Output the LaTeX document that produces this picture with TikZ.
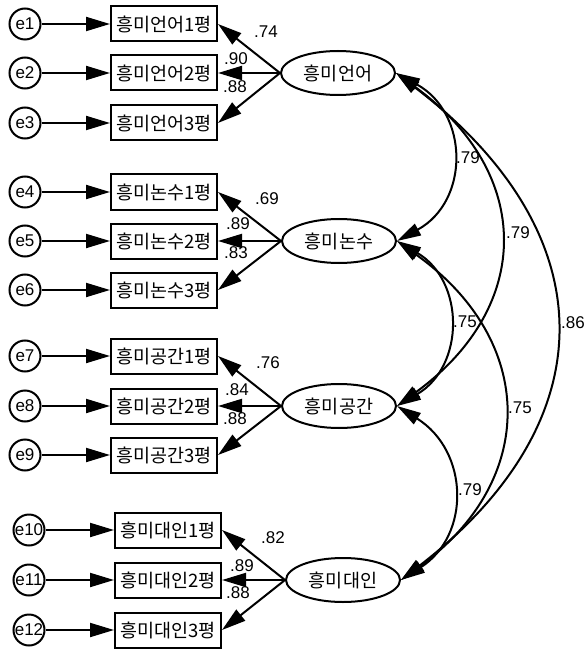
\documentclass[tikz,border=0pt]{standalone}
\usepackage{fontspec}
\setmainfont{Liberation Sans}
\newfontfamily\kr{Noto Sans CJK KR}
\usetikzlibrary{arrows.meta,shapes.geometric}
\begin{document}
\begin{tikzpicture}[x=1pt,y=-1pt,
  every node/.style={inner sep=0pt},
  obs/.style={draw, line width=2pt, minimum width=106pt, minimum height=35pt, font=\kr\fontsize{18.5}{18.5}\selectfont},
  err/.style={draw, circle, line width=2pt, minimum size=31pt, font=\fontsize{17}{17}\selectfont},
  lat/.style={draw, ellipse, line width=2pt, minimum width=114pt, minimum height=44pt, font=\kr\fontsize{18.5}{18.5}\selectfont},
  lab/.style={font=\fontsize{17}{17}\selectfont},
  arr/.style={line width=2pt, -{Triangle[length=24pt,width=14pt]}},
  cov/.style={line width=2pt, {Triangle[length=24pt,width=13pt]}-{Triangle[length=24pt,width=13pt]}},
]
\useasboundingbox (0,0) rectangle (586,652);
% group 1
\node[err] (e1) at (25,24) {e1};
\node[err] (e2) at (25,73) {e2};
\node[err] (e3) at (25,123) {e3};
\node[obs] (b1) at (164,24) {흥미언어1평};
\node[obs] (b2) at (164,73) {흥미언어2평};
\node[obs] (b3) at (164,123) {흥미언어3평};
\node[lat] (f1) at (338,73) {흥미언어};
% group 2
\node[err] (e4) at (25,192) {e4};
\node[err] (e5) at (25,241) {e5};
\node[err] (e6) at (25,290) {e6};
\node[obs] (b4) at (164,192) {흥미논수1평};
\node[obs] (b5) at (164,241) {흥미논수2평};
\node[obs] (b6) at (164,290) {흥미논수3평};
\node[lat] (f2) at (339,241) {흥미논수};
% group 3
\node[err] (e7) at (25,356) {e7};
\node[err] (e8) at (25,406) {e8};
\node[err] (e9) at (25,455) {e9};
\node[obs] (b7) at (164,356) {흥미공간1평};
\node[obs] (b8) at (164,406) {흥미공간2평};
\node[obs] (b9) at (164,455) {흥미공간3평};
\node[lat] (f3) at (339,406) {흥미공간};
% group 4
\node[err] (e10) at (29,530) {e10};
\node[err] (e11) at (29,580) {e11};
\node[err] (e12) at (29,630) {e12};
\node[obs] (b10) at (168,530) {흥미대인1평};
\node[obs] (b11) at (168,580) {흥미대인2평};
\node[obs] (b12) at (168,630) {흥미대인3평};
\node[lat] (f4) at (343,580) {흥미대인};
% error arrows
\foreach \i in {1,...,12} \draw[arr] (e\i) -- (b\i);
% loadings
\draw[arr] (f1.west) -- (b1.east);
\draw[arr] (f1.west) -- (b2.east);
\draw[arr] (f1.west) -- (b3.east);
\draw[arr] (f2.west) -- (b4.east);
\draw[arr] (f2.west) -- (b5.east);
\draw[arr] (f2.west) -- (b6.east);
\draw[arr] (f3.west) -- (b7.east);
\draw[arr] (f3.west) -- (b8.east);
\draw[arr] (f3.west) -- (b9.east);
\draw[arr] (f4.west) -- (b10.east);
\draw[arr] (f4.west) -- (b11.east);
\draw[arr] (f4.west) -- (b12.east);
% loading labels
\node[lab] (l1) at (266,32) {.74};
\node[lab] (l2) at (236,59) {.90};
\node[lab] (l3) at (235,87) {.88};
\node[lab] (l4) at (267,199) {.69};
\node[lab] (l5) at (238,224) {.89};
\node[lab] (l6) at (236,253) {.83};
\node[lab] (l7) at (268,363) {.76};
\node[lab] (l8) at (237,390) {.84};
\node[lab] (l9) at (235,419) {.88};
\node[lab] (l10) at (273,538) {.82};
\node[lab] (l11) at (242,566) {.89};
\node[lab] (l12) at (238,593) {.88};
% covariances
\draw[cov] (f1.east) .. controls +(73,40) and +(73,-40) .. (f2.east);
\draw[cov] (f1.east) .. controls +(137,100) and +(137,-100) .. (f3.east);
\draw[cov] (f1.east) .. controls +(210,160) and +(207,-160) .. (f4.east);
\draw[cov] (f2.east) .. controls +(68,40) and +(68,-40) .. (f3.east);
\draw[cov] (f2.east) .. controls +(140,100) and +(137,-100) .. (f4.east);
\draw[cov] (f3.east) .. controls +(72,45) and +(70,-45) .. (f4.east);
\node[lab] (c12) at (468,158) {.79};
\node[lab] (c13) at (518,233) {.79};
\node[lab] (c14) at (573,323) {.86};
\node[lab] (c23) at (465,322) {.75};
\node[lab] (c24) at (520,408) {.75};
\node[lab] (c34) at (470,490) {.79};
\end{tikzpicture}
\end{document}
